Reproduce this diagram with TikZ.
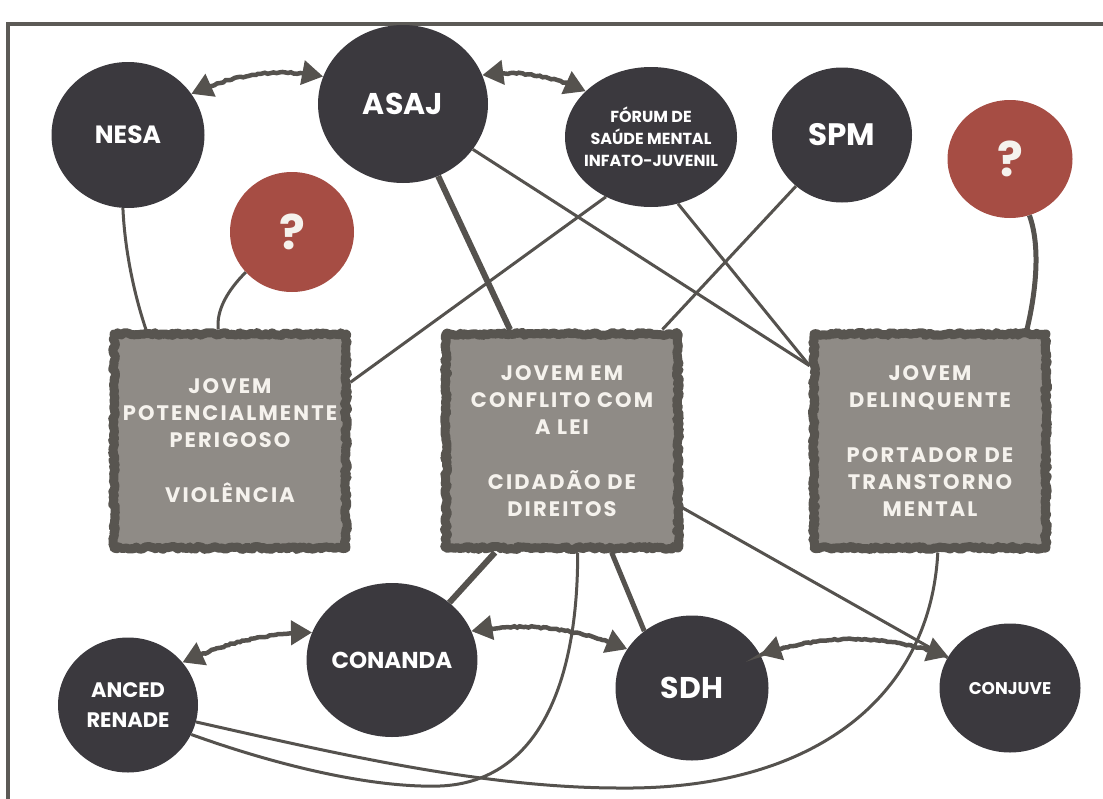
\documentclass[tikz,border=0pt]{standalone}
\usepackage{fontspec}
\setsansfont{Poppins}
\newfontfamily\boxfont[LetterSpace=10]{Poppins}
\usetikzlibrary{shapes.geometric,arrows.meta,decorations.pathmorphing}
\definecolor{orgcol}{RGB}{59,57,62}
\definecolor{askcol}{RGB}{166,77,68}
\definecolor{boxfill}{RGB}{143,139,134}
\definecolor{boxline}{RGB}{88,85,80}
\definecolor{linkcol}{RGB}{85,82,78}
\definecolor{framecol}{RGB}{92,90,86}
\definecolor{labelcol}{RGB}{245,242,237}

\begin{document}
\begin{tikzpicture}[x=1pt, y=-1pt,
    org/.style={ellipse, fill=orgcol, text=white, inner sep=0pt, align=center, font=\sffamily\bfseries\fontsize{#1}{#1}\selectfont},
    ask/.style={ellipse, fill=askcol, text=labelcol, inner sep=0pt, font=\sffamily\bfseries\fontsize{48}{48}\selectfont},
    view/.style={rectangle, fill=boxfill, draw=boxline, line width=9pt, line join=round, minimum width=232pt, minimum height=214pt, align=center, text=labelcol, font=\boxfont\bfseries\fontsize{21}{27}\selectfont, decorate, decoration={random steps, segment length=2.5pt, amplitude=1.5pt}},
    link/.style={draw=linkcol, line width=3pt},
    strong/.style={draw=linkcol, line width=6pt},
    chalk/.style={draw=linkcol, line width=4.5pt, {Triangle[length=21pt,width=24pt]}-{Triangle[length=21pt,width=24pt]}, decorate, decoration={random steps, segment length=3pt, amplitude=0.8pt, pre length=4pt, post length=4pt}},
]
\useasboundingbox (0,0) rectangle (1103,798);
\draw[framecol, line width=3.5pt] (8,830) |- (1130,24);

\node[org=25, minimum width=153pt, minimum height=146pt] (nesa) at (128,135) {NESA};
\node[org=30, minimum width=170pt, minimum height=158pt] (asaj) at (403,104) {ASAJ};
\node[org=16, minimum width=172pt, minimum height=140pt, inner sep=-12pt] (forum) at (651,137) {FÓRUM DE\\[6pt]SAÚDE MENTAL\\[6pt]INFATO-JUVENIL};
\node[org=31, minimum width=140pt, minimum height=135pt] (spm) at (842,135) {SPM};
\node[ask, minimum width=124pt, minimum height=120pt] (askl) at (292,232) {?};
\node[ask, minimum width=125pt, minimum height=118pt] (askr) at (1010,159) {?};

\node[view] (potencial) at (230,441) {JOVEM\\POTENCIALMENTE\\PERIGOSO\\[28pt]VIOLÊNCIA};
\node[view] (conflito) at (562,441) {JOVEM EM\\CONFLITO COM\\A LEI\\[28pt]CIDADÃO DE\\DIREITOS};
\node[view] (delinq) at (930,441) {JOVEM\\DELINQUENTE\\[28pt]PORTADOR DE\\TRANSTORNO\\MENTAL};

\node[org=23, minimum width=170pt, minimum height=154pt] (conanda) at (392,660) {CONANDA};
\node[org=21, minimum width=140pt, minimum height=135pt] (anced) at (128,705) {ANCED\\[9pt]RENADE};
\node[org=30, minimum width=153pt, minimum height=145pt] (sdh) at (692,688) {SDH};
\node[org=17, minimum width=141pt, minimum height=129pt] (conjuve) at (1010,688) {CONJUVE};

\draw[link] (nesa.-94) .. controls (125,255) and (136,300) .. (potencial.127);
\draw[link] (askl.-139) .. controls (228,290) and (216,310) .. (potencial.96);
\draw[strong] (asaj.-64) -- (conflito.115);
\draw[link] (asaj.-33) -- (delinq.148);
\draw[link] (forum.-127) -- (potencial.26);
\draw[link] (forum.-68) -- (delinq.148);
\draw[link] (spm.-132) -- (conflito.48);
\draw[strong, line width=5pt] (askr.-71) .. controls (1042,250) and (1034,300) .. (delinq.49);
\draw[strong] (conflito.-121) -- (conanda.45);
\draw[strong, line width=5pt] (conflito.-66) -- (sdh.130);
\draw[link] (conflito.-29) -- (conjuve.154);
\draw[link] (anced.-25) .. controls (290,770) and (380,788) .. (440,786) .. controls (540,782) and (578,680) .. (conflito.-82);
\draw[link] (anced.-14) .. controls (330,752) and (480,788) .. (620,788) .. controls (810,790) and (930,700) .. (delinq.-86);

\draw[chalk] (nesa.33) .. controls (237,73) and (278,68) .. (asaj.161);
\draw[chalk] (asaj.20) .. controls (519,70) and (550,75) .. (forum.145);
\draw[chalk] (anced.38) .. controls (225,643) and (265,633) .. (conanda.161);
\draw[chalk] (conanda.20) .. controls (523,622) and (573,627) .. (sdh.149);
\draw[chalk] (sdh.26) .. controls (825,633) and (886,634) .. (conjuve.153);
\end{tikzpicture}
\end{document}
